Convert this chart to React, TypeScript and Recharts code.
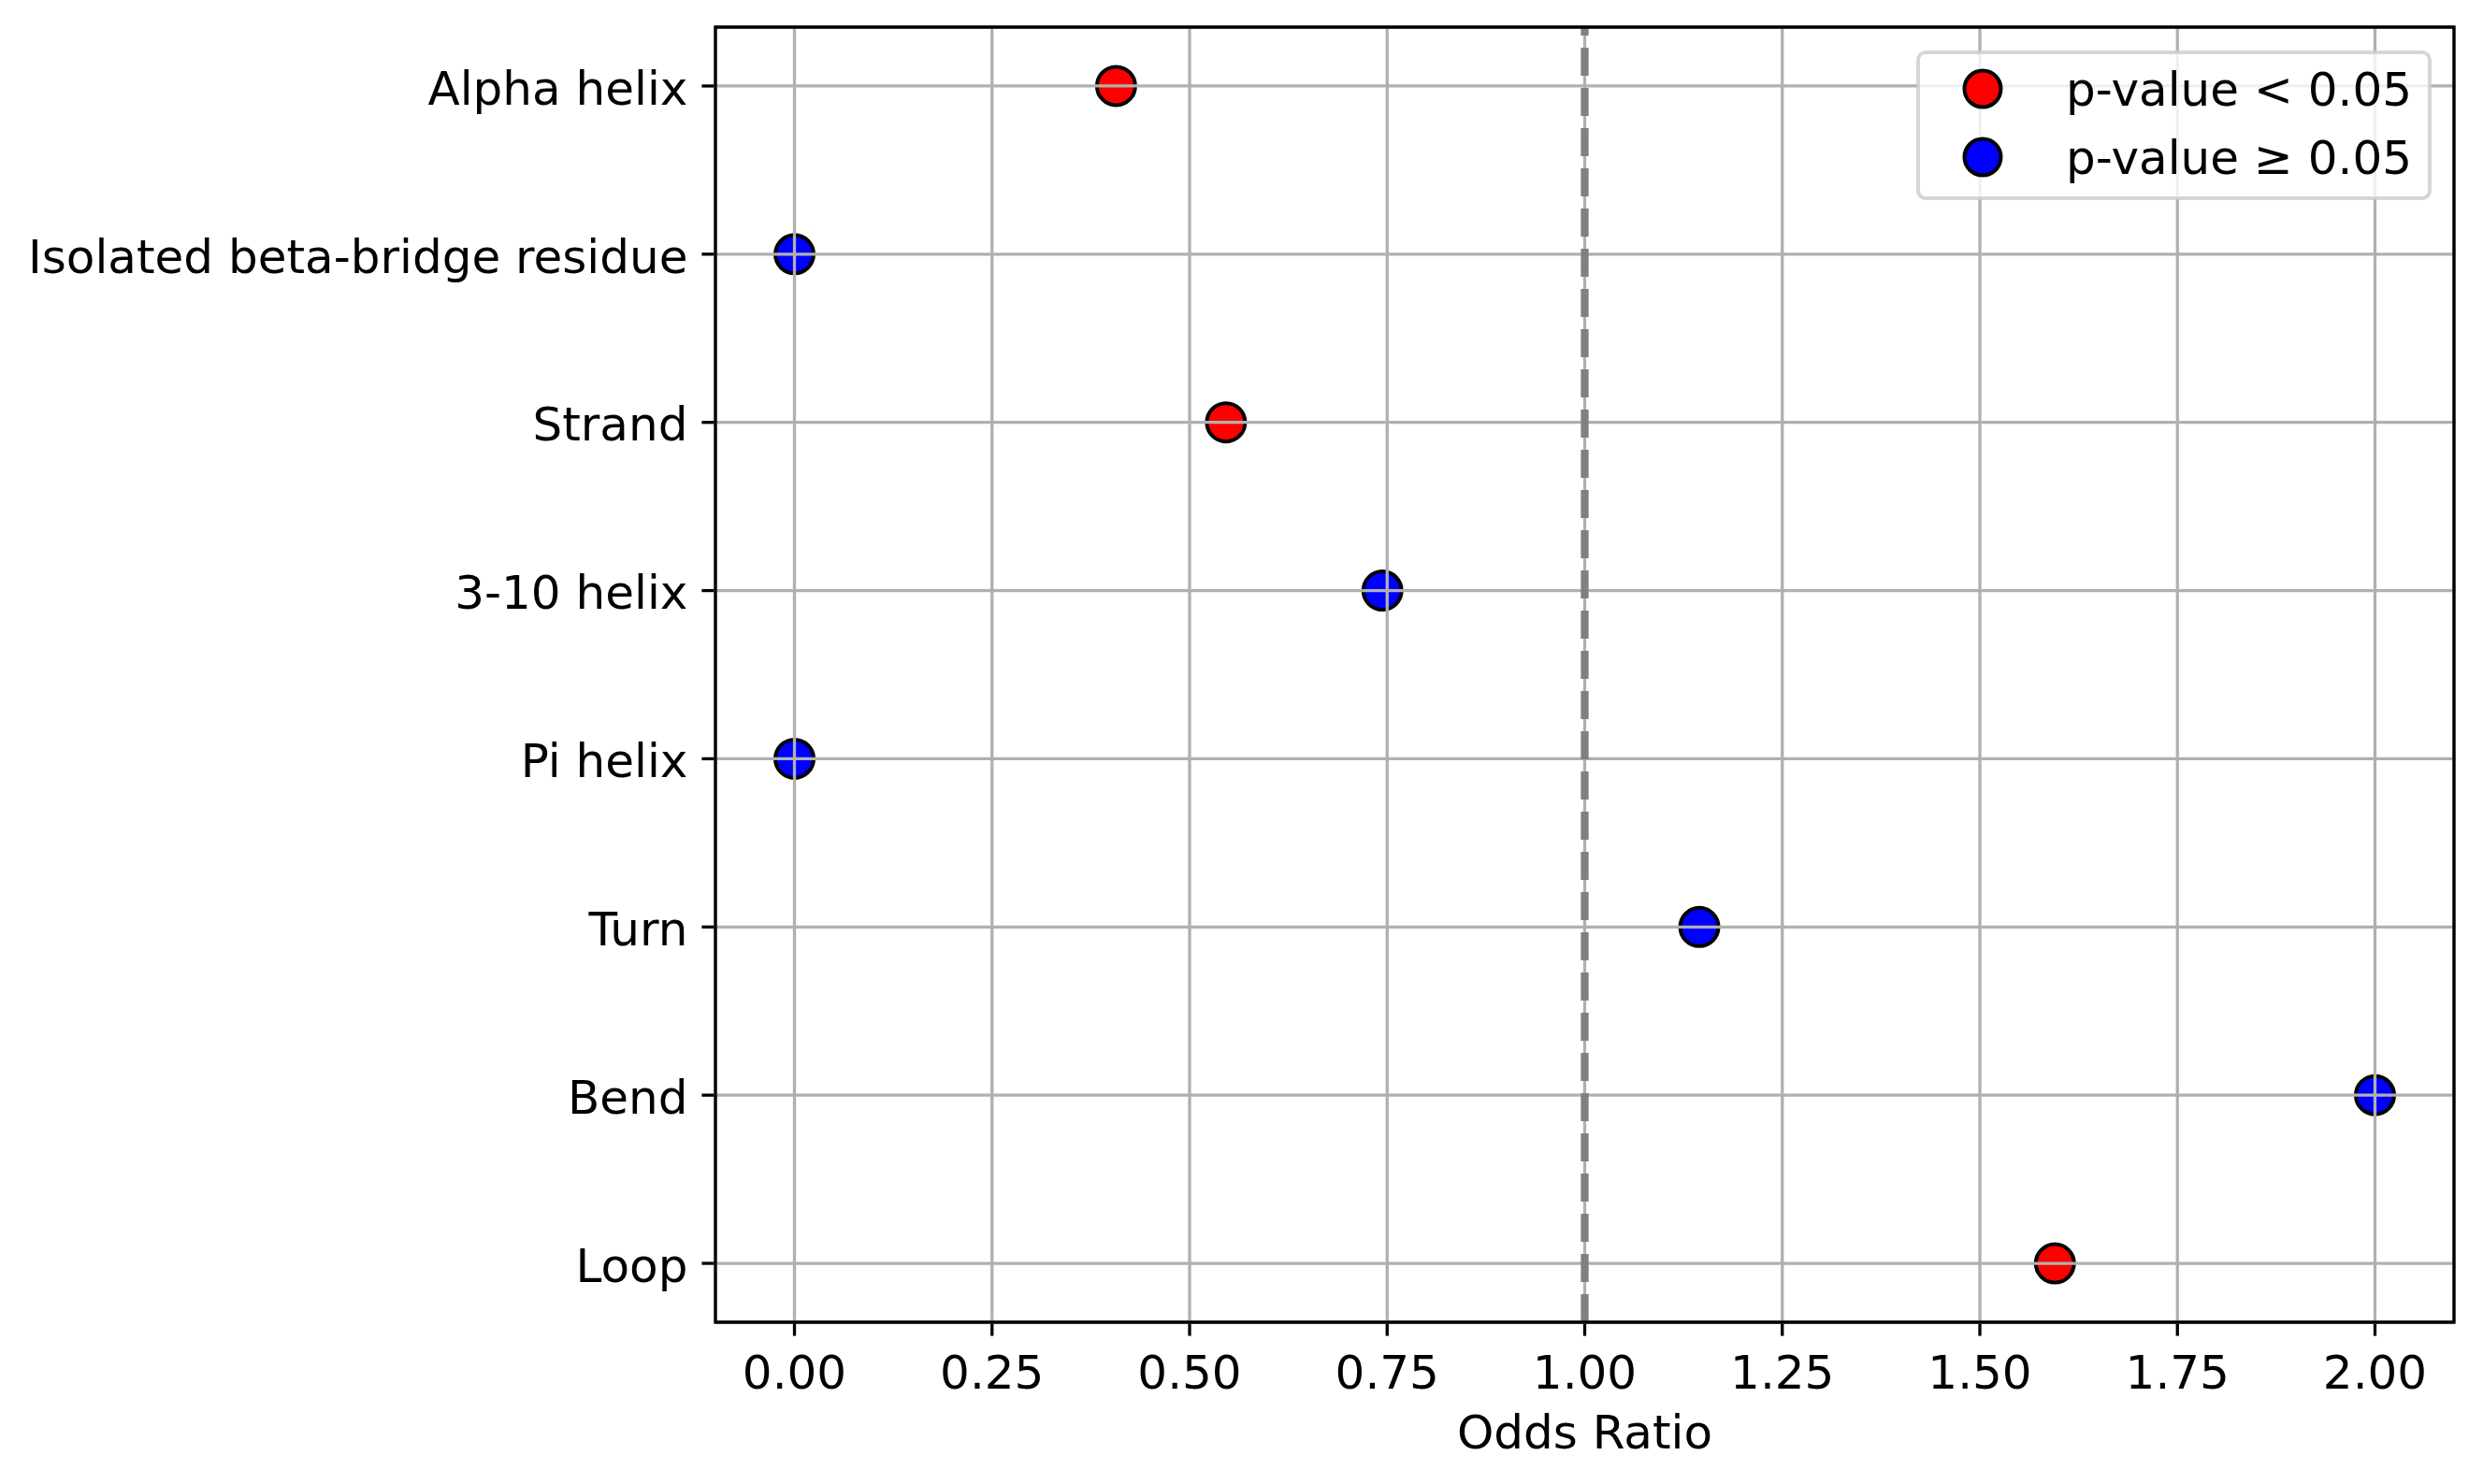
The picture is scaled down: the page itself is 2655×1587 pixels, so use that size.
import React from 'react';
import {
  ScatterChart,
  Scatter,
  XAxis,
  YAxis,
  CartesianGrid,
  ReferenceLine,
  ReferenceArea,
  Legend,
} from 'recharts';

const categories = [
  'Alpha helix',
  'Isolated beta-bridge residue',
  'Strand',
  '3-10 helix',
  'Pi helix',
  'Turn',
  'Bend',
  'Loop',
];
const oddsRatios = [0.407, 0.0, 0.546, 0.744, 0.0, 1.145, 2.0, 1.595];
const significant = [true, false, true, false, false, false, false, true];

const seriesNames = ['p-value < 0.05', 'p-value \u2265 0.05'];
const seriesColors = ['#ff0000', '#0000ff'];

const xTicks = [0, 0.25, 0.5, 0.75, 1.0, 1.25, 1.5, 1.75, 2.0];
const xDomain = [-0.1, 2.1];
const yDomain = [-0.35, 7.35];
const yTicks = categories.map((_, i) => i);
const referenceValue = 1.0;
const xLabel = 'Odds Ratio';

const sigData = categories
  .map((c, i) => ({ name: c, x: oddsRatios[i], y: i, sig: significant[i] }))
  .filter((d) => d.sig);
const nonSigData = categories
  .map((c, i) => ({ name: c, x: oddsRatios[i], y: i, sig: significant[i] }))
  .filter((d) => !d.sig);

const FONT = '"DejaVu Sans", sans-serif';

const makeDot = (color: string) => (props: any) => {
  const { cx, cy } = props;
  if (cx == null || cy == null) return <g />;
  return <circle cx={cx} cy={cy} r={20.5} fill={color} stroke="#000" strokeWidth={4} />;
};

const LegendBox = (props: any) => {
  const payload = (props && props.payload && props.payload.length ? props.payload : null) ||
    seriesNames.map((n, i) => ({ value: n, color: seriesColors[i] }));
  return (
    <svg width={551} height={160} style={{ display: 'block' }}>
      <rect
        x={2}
        y={2}
        width={547}
        height={156}
        rx={8}
        ry={8}
        fill="#ffffff"
        fillOpacity={0.8}
        stroke="#cccccc"
        strokeOpacity={0.8}
        strokeWidth={4}
      />
      {payload.map((p: any, i: number) => (
        <g key={i}>
          <circle cx={71} cy={41 + i * 73} r={19.5} fill={seriesColors[i]} stroke="#000" strokeWidth={4} />
          <text x={160} y={59 + i * 73} fontSize={50} fontFamily={FONT} fill="#000">
            {seriesNames[i]}
          </text>
        </g>
      ))}
    </svg>
  );
};

export default function App() {
  return (
    <div style={{ position: 'absolute', left: 0, top: 0, background: '#fff' }}>
      <ScatterChart
        width={2655}
        height={1587}
        margin={{ top: 29, right: 31, bottom: 0, left: 0 }}
        style={{ fontFamily: FONT }}
      >
        <XAxis
          type="number"
          dataKey="x"
          domain={xDomain}
          ticks={xTicks}
          allowDataOverflow
          height={173}
          tickFormatter={(v: number) => v.toFixed(2)}
          tick={{ fontSize: 50, fill: '#000', fontFamily: FONT }}
          tickSize={14.6}
          tickMargin={21}
          tickLine={{ stroke: '#000', strokeWidth: 3.3 }}
          axisLine={false}
          label={{ value: xLabel, position: 'insideBottom', offset: 38, fontSize: 50, fill: '#000', fontFamily: FONT }}
        />
        <YAxis
          type="number"
          dataKey="y"
          domain={yDomain}
          ticks={yTicks}
          reversed
          allowDataOverflow
          interval={0}
          width={765}
          tickFormatter={(v: number) => categories[v] ?? ''}
          tick={{ fontSize: 50, fill: '#000', fontFamily: FONT, dy: 2 }}
          tickSize={14.6}
          tickMargin={15}
          tickLine={{ stroke: '#000', strokeWidth: 3.3 }}
          axisLine={false}
        />
        <Scatter
          name={seriesNames[0]}
          data={sigData}
          fill={seriesColors[0]}
          shape={makeDot(seriesColors[0])}
          isAnimationActive={false}
        />
        <Scatter
          name={seriesNames[1]}
          data={nonSigData}
          fill={seriesColors[1]}
          shape={makeDot(seriesColors[1])}
          isAnimationActive={false}
        />
        <CartesianGrid stroke="#b0b0b0" strokeWidth={3.3} {...({ zIndex: 700 } as any)} />
        <ReferenceLine
          x={referenceValue}
          stroke="#808080"
          strokeWidth={8.3}
          strokeDasharray="30 13"
          {...({ zIndex: 800 } as any)}
        />
        <ReferenceArea
          x1={xDomain[0]}
          x2={xDomain[1]}
          y1={yDomain[0]}
          y2={yDomain[1]}
          fill="none"
          fillOpacity={0}
          stroke="#000"
          strokeWidth={3.3}
          ifOverflow="visible"
          {...({ zIndex: 900 } as any)}
        />
        <Legend
          layout="vertical"
          align="center"
          verticalAlign="middle"
          wrapperStyle={{ left: 2049, top: 54, width: 551, height: 160 }}
          content={<LegendBox />}
        />
      </ScatterChart>
    </div>
  );
}
